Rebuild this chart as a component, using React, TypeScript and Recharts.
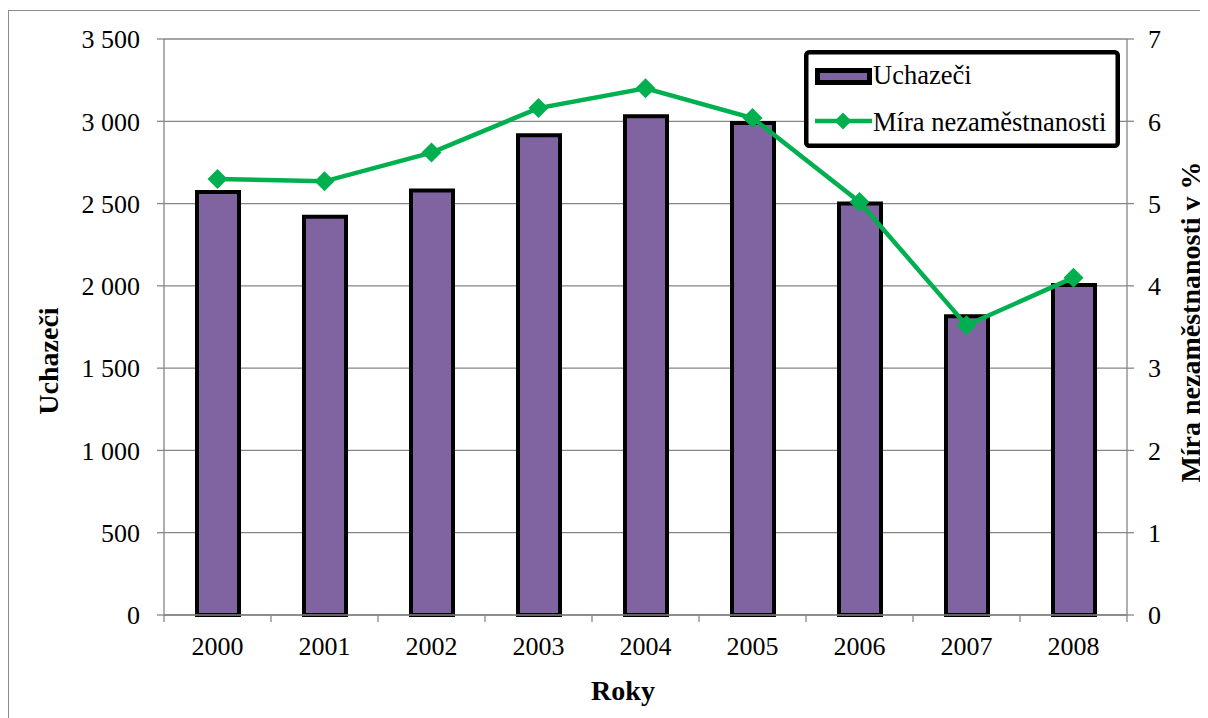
import React from 'react';
import { ComposedChart, Bar, Line, XAxis, YAxis, CartesianGrid, Legend } from 'recharts';

const years = ['2000', '2001', '2002', '2003', '2004', '2005', '2006', '2007', '2008'];
const applicants = [2570, 2420, 2580, 2915, 3030, 2990, 2500, 1815, 2005];
const unemploymentRate = [5.3, 5.27, 5.62, 6.16, 6.4, 6.04, 5.02, 3.52, 4.1];
const applicantTicks = [0, 500, 1000, 1500, 2000, 2500, 3000, 3500];
const rateTicks = [0, 1, 2, 3, 4, 5, 6, 7];

const data = years.map((year, i) => ({
  year,
  uchazeci: applicants[i],
  mira: unemploymentRate[i],
}));

const FONT = "'Liberation Serif', 'Times New Roman', serif";
const GRID = '#868686';
const PURPLE = '#8064A2';
const GREEN = '#00B050';

const CHART_W = 1205;
const CHART_H = 708;
const LEFT_AXIS_W = 155;
const RIGHT_AXIS_W = 87;
const HALF_BAND = (CHART_W - LEFT_AXIS_W - RIGHT_AXIS_W) / years.length / 2;

const tickStyle = { fontSize: 26, fill: '#000', fontFamily: FONT };

const formatThousands = (v: number) =>
  v >= 1000 ? `${Math.floor(v / 1000)} ${String(v % 1000).padStart(3, '0')}` : String(v);

function YearTick({ x, y, payload, index }: any) {
  return (
    <g>
      <line x1={x - HALF_BAND} x2={x - HALF_BAND} y1={y} y2={y + 7} stroke={GRID} strokeWidth={1.3} />
      {index === years.length - 1 && (
        <line x1={x + HALF_BAND} x2={x + HALF_BAND} y1={y} y2={y + 7} stroke={GRID} strokeWidth={1.3} />
      )}
      <text x={x} y={y + 40} textAnchor="middle" {...tickStyle}>
        {payload.value}
      </text>
    </g>
  );
}

function Diamond({ cx, cy }: any) {
  if (cx == null || cy == null) return null;
  const r = 10;
  return (
    <polygon
      points={`${cx},${cy - r} ${cx + r},${cy} ${cx},${cy + r} ${cx - r},${cy}`}
      fill={GREEN}
    />
  );
}

const titleStyle = { fontSize: 28, fontWeight: 700, fill: '#000', fontFamily: FONT };

const leftTitle = ({ viewBox }: any) => {
  const cx = viewBox.x + 39;
  const cy = viewBox.y + viewBox.height / 2 + 34;
  return (
    <text transform={`translate(${cx},${cy}) rotate(-90)`} textAnchor="middle" dominantBaseline="central" {...titleStyle}>
      Uchazeči
    </text>
  );
};

const rightTitle = ({ viewBox }: any) => {
  const cx = viewBox.x + 63;
  const cy = viewBox.y + viewBox.height / 2 - 5;
  return (
    <text transform={`translate(${cx},${cy}) rotate(-90)`} textAnchor="middle" dominantBaseline="central" {...titleStyle}>
      Míra nezaměstnanosti v %
    </text>
  );
};

const bottomTitle = ({ viewBox }: any) => (
  <text x={614} y={viewBox.y + 85} textAnchor="middle" {...titleStyle}>
    Roky
  </text>
);

function LegendBox() {
  return (
    <svg width={316} height={98} style={{ display: 'block' }}>
      <rect x={2.25} y={2.25} width={311.5} height={93.5} rx={3} fill="#fff" stroke="#000" strokeWidth={4.5} />
      <rect x={13.5} y={20.5} width={52} height={12} fill={PURPLE} stroke="#000" strokeWidth={5} />
      <text x={69} y={34} fontSize={26.5} fontFamily={FONT} fill="#000">
        Uchazeči
      </text>
      <line x1={11} x2={68} y1={71} y2={71} stroke={GREEN} strokeWidth={4.5} />
      <polygon points="39,62.5 47.5,71 39,79.5 30.5,71" fill={GREEN} />
      <text x={69} y={81} fontSize={26.5} fontFamily={FONT} fill="#000">
        Míra nezaměstnanosti
      </text>
    </svg>
  );
}

export default function App() {
  return (
    <>
      <style>{'html, body { overflow: hidden; }'}</style>
      <div style={{ width: CHART_W, height: CHART_H, marginTop: 2, border: '1px solid #8c8c8c', background: '#fff' }}>
        <ComposedChart width={CHART_W} height={CHART_H} data={data} margin={{ top: 28, right: 0, left: 0, bottom: 0 }}>
          <CartesianGrid yAxisId="left" vertical={false} stroke={GRID} strokeWidth={1.3} />
          <XAxis
            dataKey="year"
            height={104}
            interval={0}
            tickLine={false}
            tickSize={0}
            tickMargin={0}
            axisLine={{ stroke: GRID, strokeWidth: 1.3 }}
            tick={<YearTick />}
            label={bottomTitle}
          />
          <YAxis
            yAxisId="left"
            width={LEFT_AXIS_W}
            domain={[0, 3500]}
            ticks={applicantTicks}
            interval={0}
            tickFormatter={formatThousands}
            axisLine={{ stroke: GRID, strokeWidth: 1.3 }}
            tickLine={{ stroke: GRID, strokeWidth: 1.3 }}
            tickSize={7}
            tickMargin={17}
            tick={tickStyle}
            label={leftTitle}
          />
          <YAxis
            yAxisId="right"
            orientation="right"
            width={RIGHT_AXIS_W}
            domain={[0, 7]}
            ticks={rateTicks}
            interval={0}
            axisLine={{ stroke: GRID, strokeWidth: 1.3 }}
            tickLine={{ stroke: GRID, strokeWidth: 1.3 }}
            tickSize={7}
            tickMargin={14}
            tick={tickStyle}
            label={rightTitle}
          />
          <Bar
            yAxisId="left"
            dataKey="uchazeci"
            name="Uchazeči"
            fill={PURPLE}
            stroke="#000"
            strokeWidth={4}
            barSize={42}
            isAnimationActive={false}
          />
          <Line
            yAxisId="right"
            type="linear"
            dataKey="mira"
            name="Míra nezaměstnanosti"
            stroke={GREEN}
            strokeWidth={4.5}
            dot={<Diamond />}
            activeDot={false}
            isAnimationActive={false}
          />
          <Legend
            layout="vertical"
            align="center"
            verticalAlign="middle"
            wrapperStyle={{ left: 795, top: 39, width: 316, height: 98 }}
            content={() => <LegendBox />}
          />
        </ComposedChart>
      </div>
    </>
  );
}
